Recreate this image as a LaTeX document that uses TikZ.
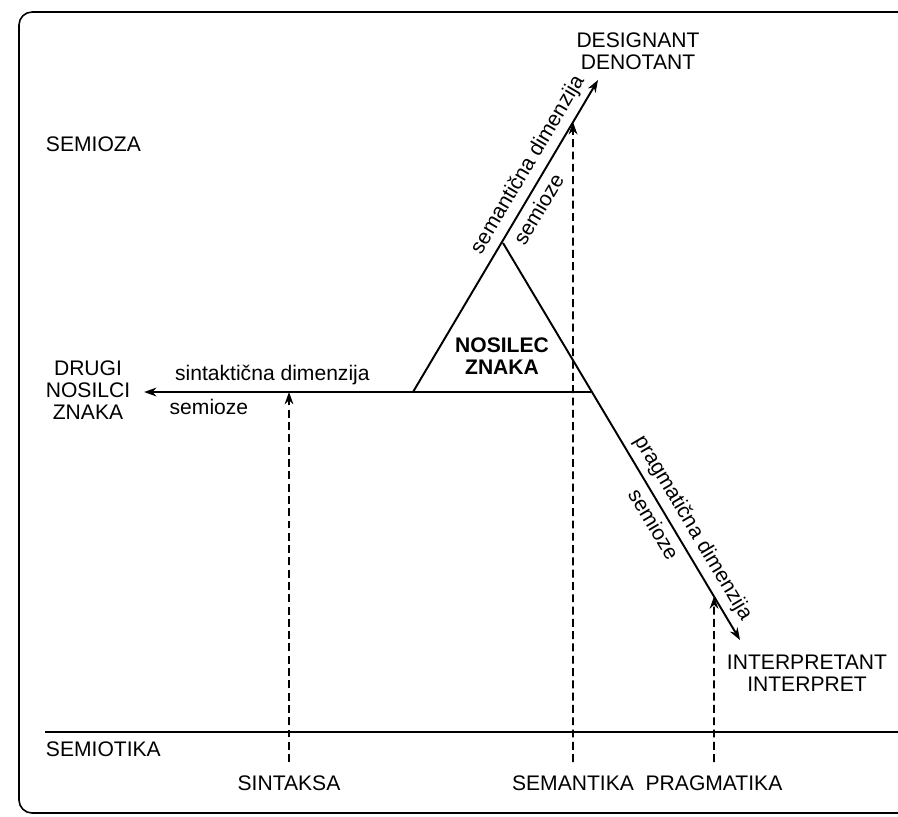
\documentclass[tikz,border=0pt]{standalone}
\usepackage{fontspec}
\setmainfont{Liberation Sans}
\usetikzlibrary{arrows.meta}

\begin{document}
\begin{tikzpicture}[x=0.02cm,y=-0.02cm,line width=1.1pt,
  every node/.style={font=\fontsize{12}{12.5}\selectfont},
  lbl/.style={align=center,inner sep=0pt},
  field/.style={inner xsep=0pt,inner ysep=0.25cm},
  dim/.style={-{Stealth[length=7pt,width=5pt]}},
  proj/.style={line width=0.9pt,dash pattern=on 4.5pt off 2.5pt,-{Stealth[length=7pt,width=5pt]}}]
\useasboundingbox (0,0) rectangle (898,816);
\clip (0,0) rectangle (898,816);
\draw[line width=0.9pt,rounded corners=0.26cm] (19,12) rectangle (940,813);
\draw (45,732) -- (898,732);

% levels
\node[lbl,anchor=west] (semioza) at (45,144) {SEMIOZA};
\node[lbl,anchor=west] (semiotika) at (45,749) {SEMIOTIKA};

% sign vehicle
\coordinate (apex) at (503,243);
\coordinate (baseL) at (413,392);
\coordinate (baseR) at (591,392);
\coordinate (semTip) at (598,80);
\coordinate (pragTip) at (740,640);
\node[lbl,font=\fontsize{12}{12.5}\selectfont\bfseries] (nosilec) at (502,356) {NOSILEC\\ZNAKA};

% ends of the dimensions
\node[lbl] (drugi) at (88,390) {DRUGI\\NOSILCI\\ZNAKA};
\node[lbl] (designant) at (638,51) {DESIGNANT\\DENOTANT};
\node[lbl] (interpretant) at (807,673) {INTERPRETANT\\INTERPRET};

\draw[dim] (baseL) -- node[sloped,above,pos=0.70] {semantična dimenzija}
  node[sloped,below,pos=0.61] {semioze} (semTip);
\draw[dim] (apex) -- node[sloped,above,pos=0.74] {pragmatična dimenzija}
  node[sloped,below,pos=0.69] {semioze} (pragTip);
\draw[dim] (baseR) -- node[above,pos=0.713] {sintaktična dimenzija}
  node[below,pos=0.855] {semioze} ([xshift=0.26cm]baseR -| drugi.east);

% branches of semiotics
\node[field] (sintaksa) at (289,783) {SINTAKSA};
\node[field] (semantika) at (573,783) {SEMANTIKA};
\node[field] (pragmatika) at (714,783) {PRAGMATIKA};
\draw[proj] (sintaksa) -- (sintaksa |- baseL);
\draw[proj] (semantika) -- (intersection of baseL--semTip and semantika.center--semantika.north);
\draw[proj] (pragmatika) -- (intersection of apex--pragTip and pragmatika.center--pragmatika.north);
\end{tikzpicture}
\end{document}
